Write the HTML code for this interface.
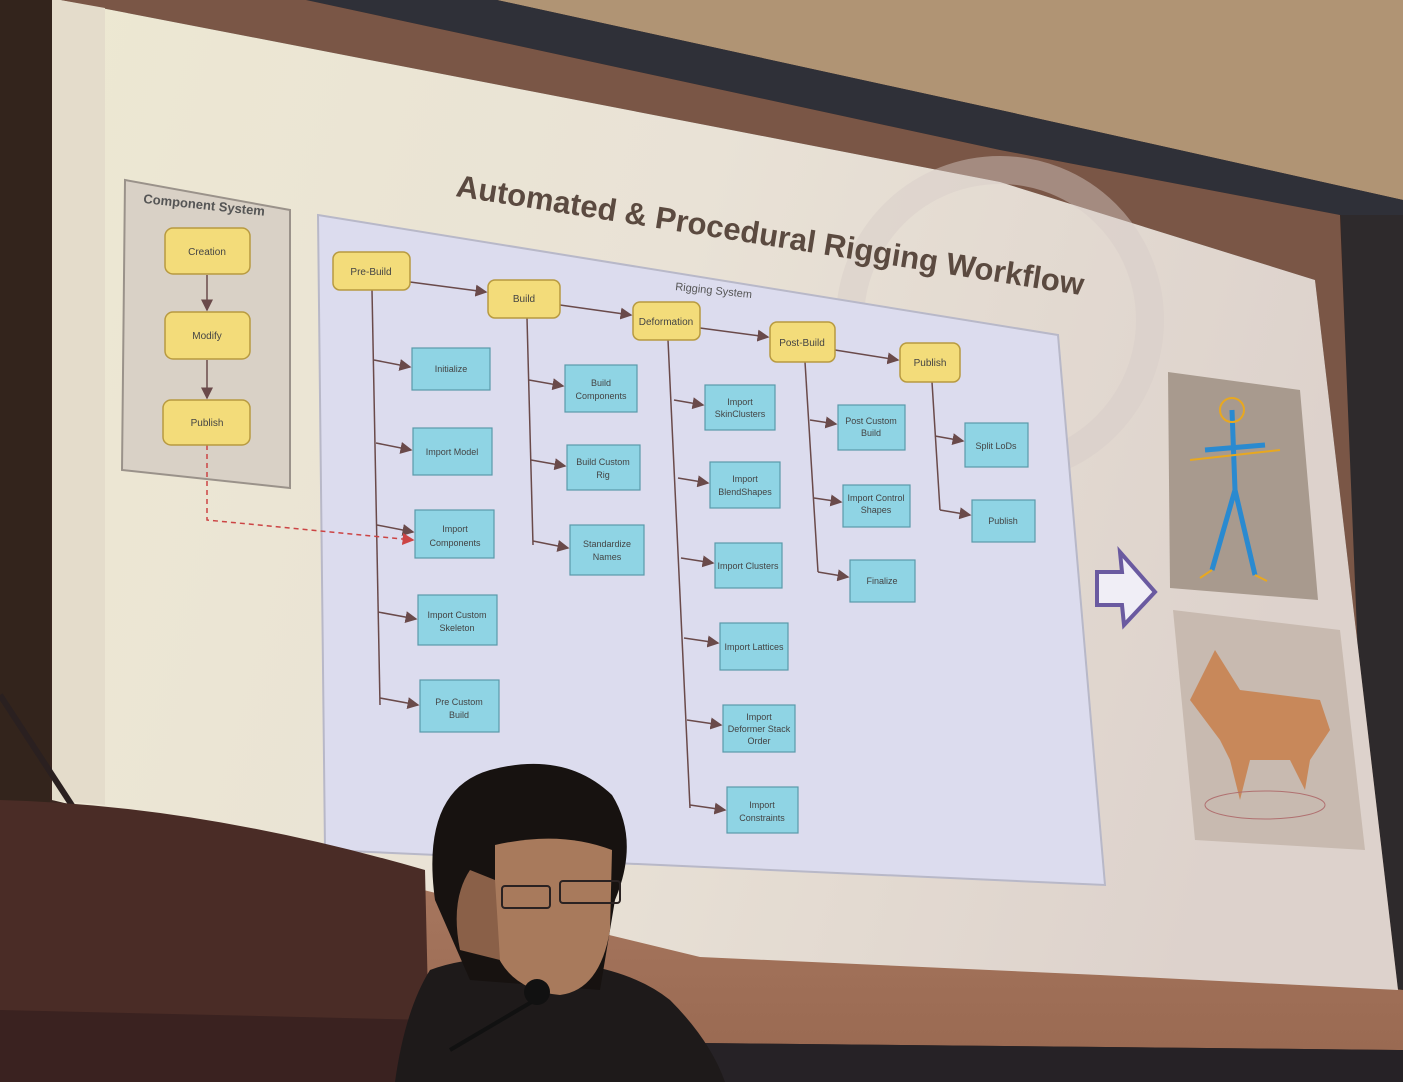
<!DOCTYPE html>
<html><head><meta charset="utf-8"><style>
html,body{margin:0;padding:0;background:#2a1c14;}
svg{display:block}
text{font-family:"Liberation Sans",sans-serif;}
</style></head><body>
<svg width="1403" height="1082" viewBox="0 0 1403 1082" xmlns="http://www.w3.org/2000/svg">
<defs>
<linearGradient id="scr" x1="0" y1="0" x2="1" y2="0.2">
<stop offset="0" stop-color="#ede8d2"/><stop offset="0.5" stop-color="#e9e2d6"/><stop offset="1" stop-color="#ddd2cc"/>
</linearGradient>
<linearGradient id="low" x1="0" y1="0" x2="0" y2="1">
<stop offset="0" stop-color="#a87860"/><stop offset="1" stop-color="#9a6a52"/>
</linearGradient>
<marker id="ar" markerWidth="8" markerHeight="8" refX="7" refY="4" orient="auto"><path d="M0,0 L8,4 L0,8z" fill="#6a4a4a"/></marker>
<marker id="ar2" markerWidth="8" markerHeight="8" refX="7" refY="4" orient="auto"><path d="M0,0 L8,4 L0,8z" fill="#cc4444"/></marker>
</defs>
<rect width="1403" height="1082" fill="#3a2620"/>
<!-- right wall / frame -->
<polygon points="1340,200 1403,200 1403,1000 1370,1000" fill="#2e2a2c"/>
<!-- ceiling -->
<polygon points="497,0 1403,0 1403,200 1000,110" fill="#b09474"/>
<!-- dark frame band -->
<polygon points="306,0 497,0 1000,110 1403,200 1403,215 1340,215 1000,150" fill="#2f3038"/>
<!-- brown border -->
<polygon points="60,0 306,0 1000,150 1340,215 1372,1000 1398,990 1315,280 1000,182" fill="#7a5646"/>
<!-- lower wall under screen -->
<polygon points="400,860 1403,990 1403,1050 400,1040" fill="url(#low)"/>
<polygon points="400,1040 1403,1050 1403,1082 400,1082" fill="#262226"/>
<!-- screen -->
<polygon points="52,0 60,0 1000,182 1315,280 1398,990 1100,975 700,957 52,800" fill="url(#scr)"/>
<polygon points="52,0 60,0 105,8 105,805 52,800" fill="#e4dccb"/>
<path d="M0,0 L52,0 L50,805 L0,800z" fill="#33241c"/>
<circle cx="1000" cy="320" r="150" fill="none" stroke="#d6ccc8" stroke-width="28" opacity="0.45"/>
<!-- title -->
<text x="455" y="196" font-size="31" font-weight="bold" fill="#5b4a40" transform="rotate(9 455 196)">Automated &amp; Procedural Rigging Workflow</text>
<!-- component system -->
<polygon points="125,180 290,210 290,488 122,470" fill="#d9d1c6" stroke="#9a928a" stroke-width="2"/>
<text x="143" y="203" font-size="13" font-weight="bold" fill="#555" transform="rotate(6 143 203)">Component System</text>
<!-- rigging panel -->
<polygon points="318,215 1058,335 1105,885 325,850" fill="#dcdcee" stroke="#b8b8c8" stroke-width="2"/>
<text x="675" y="290" font-size="11" fill="#555" transform="rotate(6 675 290)">Rigging System</text>
<g stroke="#6a4a4a" stroke-width="1.5" fill="none">
<line x1="207" y1="275" x2="207" y2="310" marker-end="url(#ar)"/>
<line x1="207" y1="360" x2="207" y2="398" marker-end="url(#ar)"/>
<polyline points="410,282 486,292" marker-end="url(#ar)"/>
<polyline points="560,305 631,315" marker-end="url(#ar)"/>
<polyline points="700,328 768,337" marker-end="url(#ar)"/>
<polyline points="835,350 898,360" marker-end="url(#ar)"/>
<polyline points="372,290 380,705"/>
<line x1="374" y1="360" x2="410" y2="367" marker-end="url(#ar)"/>
<line x1="376" y1="443" x2="411" y2="450" marker-end="url(#ar)"/>
<line x1="377" y1="525" x2="413" y2="532" marker-end="url(#ar)"/>
<line x1="378" y1="612" x2="416" y2="619" marker-end="url(#ar)"/>
<line x1="380" y1="698" x2="418" y2="705" marker-end="url(#ar)"/>
<polyline points="527,318 533,545"/>
<line x1="529" y1="380" x2="563" y2="386" marker-end="url(#ar)"/>
<line x1="531" y1="460" x2="565" y2="466" marker-end="url(#ar)"/>
<line x1="533" y1="541" x2="568" y2="548" marker-end="url(#ar)"/>
<polyline points="668,340 690,808"/>
<line x1="674" y1="400" x2="703" y2="405" marker-end="url(#ar)"/>
<line x1="678" y1="478" x2="708" y2="483" marker-end="url(#ar)"/>
<line x1="681" y1="558" x2="713" y2="563" marker-end="url(#ar)"/>
<line x1="684" y1="638" x2="718" y2="643" marker-end="url(#ar)"/>
<line x1="687" y1="720" x2="721" y2="725" marker-end="url(#ar)"/>
<line x1="690" y1="805" x2="725" y2="810" marker-end="url(#ar)"/>
<polyline points="805,362 818,572"/>
<line x1="810" y1="420" x2="836" y2="424" marker-end="url(#ar)"/>
<line x1="814" y1="498" x2="841" y2="502" marker-end="url(#ar)"/>
<line x1="818" y1="572" x2="848" y2="577" marker-end="url(#ar)"/>
<polyline points="932,382 940,510"/>
<line x1="935" y1="436" x2="963" y2="441" marker-end="url(#ar)"/>
<line x1="940" y1="510" x2="970" y2="515" marker-end="url(#ar)"/>
</g>
<polyline points="207,445 207,520 413,540" fill="none" stroke="#cc4444" stroke-width="1.5" stroke-dasharray="5,4" marker-end="url(#ar2)"/>
<g fill="#f3dc7a" stroke="#b89a40" stroke-width="1.5">
<rect x="165" y="228" width="85" height="46" rx="8"/><rect x="165" y="312" width="85" height="47" rx="8"/><rect x="163" y="400" width="87" height="45" rx="8"/>
<rect x="333" y="252" width="77" height="38" rx="7"/><rect x="488" y="280" width="72" height="38" rx="7"/><rect x="633" y="302" width="67" height="38" rx="7"/><rect x="770" y="322" width="65" height="40" rx="7"/><rect x="900" y="343" width="60" height="39" rx="7"/>
</g>
<g font-size="10" fill="#444" text-anchor="middle">
<text x="207" y="255">Creation</text><text x="207" y="339">Modify</text><text x="207" y="426">Publish</text>
<text x="371" y="275">Pre-Build</text><text x="524" y="302">Build</text><text x="666" y="325">Deformation</text><text x="802" y="346">Post-Build</text><text x="930" y="366">Publish</text>
</g>
<g fill="#8fd4e4" stroke="#5a9aaa" stroke-width="1.2">
<rect x="412" y="348" width="78" height="42"/><rect x="413" y="428" width="79" height="47"/><rect x="415" y="510" width="79" height="48"/><rect x="418" y="595" width="79" height="50"/><rect x="420" y="680" width="79" height="52"/>
<rect x="565" y="365" width="72" height="47"/><rect x="567" y="445" width="73" height="45"/><rect x="570" y="525" width="74" height="50"/>
<rect x="705" y="385" width="70" height="45"/><rect x="710" y="462" width="70" height="46"/><rect x="715" y="543" width="67" height="45"/><rect x="720" y="623" width="68" height="47"/><rect x="723" y="705" width="72" height="47"/><rect x="727" y="787" width="71" height="46"/>
<rect x="838" y="405" width="67" height="45"/><rect x="843" y="485" width="67" height="42"/><rect x="850" y="560" width="65" height="42"/>
<rect x="965" y="423" width="63" height="44"/><rect x="972" y="500" width="63" height="42"/>
</g>
<g font-size="9" fill="#444" text-anchor="middle">
<text x="451" y="372">Initialize</text><text x="452" y="455">Import Model</text><text x="455" y="532">Import</text><text x="455" y="546">Components</text>
<text x="457" y="618">Import Custom</text><text x="457" y="631">Skeleton</text><text x="459" y="705">Pre Custom</text><text x="459" y="718">Build</text>
<text x="601" y="386">Build</text><text x="601" y="399">Components</text><text x="603" y="465">Build Custom</text><text x="603" y="478">Rig</text><text x="607" y="547">Standardize</text><text x="607" y="560">Names</text>
<text x="740" y="405">Import</text><text x="740" y="417">SkinClusters</text><text x="745" y="482">Import</text><text x="745" y="495">BlendShapes</text><text x="748" y="569">Import Clusters</text><text x="754" y="650">Import Lattices</text>
<text x="759" y="720">Import</text><text x="759" y="732">Deformer Stack</text><text x="759" y="744">Order</text><text x="762" y="808">Import</text><text x="762" y="821">Constraints</text>
<text x="871" y="424">Post Custom</text><text x="871" y="436">Build</text><text x="876" y="501">Import Control</text><text x="876" y="513">Shapes</text><text x="882" y="584">Finalize</text>
<text x="996" y="449">Split LoDs</text><text x="1003" y="524">Publish</text>
</g>
<path d="M1097,572 L1122,572 L1120,552 L1155,592 L1124,625 L1122,605 L1097,605z" fill="#f0eef6" stroke="#6a5aa0" stroke-width="4"/>
<polygon points="1168,372 1300,390 1318,600 1170,588" fill="#a89a8e"/>
<g stroke="#2a8ad0" stroke-width="5" fill="none"><path d="M1232,410 L1235,490 M1205,450 L1265,445 M1235,490 L1212,570 M1235,490 L1255,575"/></g>
<g stroke="#e8a820" stroke-width="2" fill="none"><circle cx="1232" cy="410" r="12"/><path d="M1190,460 L1280,450 M1212,570 l-12,8 M1255,575 l12,6"/></g>
<polygon points="1173,610 1340,630 1365,850 1195,840" fill="#c8bab0"/>
<path d="M1190,700 L1215,650 L1240,690 L1320,700 L1330,730 L1310,760 L1305,790 L1290,760 L1250,760 L1240,800 L1230,760 L1220,740 Z" fill="#c8885a"/>
<ellipse cx="1265" cy="805" rx="60" ry="14" fill="none" stroke="#b07070"/>
<!-- podium -->
<line x1="0" y1="695" x2="75" y2="810" stroke="#2a2020" stroke-width="6"/>
<path d="M0,800 Q200,805 425,870 L430,1082 L0,1082z" fill="#4a2c26"/>
<path d="M0,1010 L430,1020 L430,1082 L0,1082z" fill="#3a2220"/>
<!-- person -->
<path d="M430,970 Q470,955 520,960 Q620,960 670,1000 Q710,1040 725,1082 L395,1082 Q405,1010 430,970z" fill="#1e1a1a"/>
<path d="M435,900 Q420,790 490,770 Q565,750 612,795 Q640,840 615,900 L600,990 L470,980 Z" fill="#171210"/>
<path d="M495,845 Q560,830 612,850 L610,930 Q600,990 560,995 Q510,990 495,950 Z" fill="#a87a5c"/>
<path d="M460,950 Q450,900 470,870 L495,880 L500,960 Z" fill="#8a6048"/>
<rect x="502" y="886" width="48" height="22" rx="3" fill="none" stroke="#2a2222" stroke-width="2"/>
<rect x="560" y="881" width="60" height="22" rx="3" fill="none" stroke="#2a2222" stroke-width="2"/>
<line x1="450" y1="1050" x2="535" y2="1000" stroke="#111" stroke-width="4"/>
<circle cx="537" cy="992" r="13" fill="#111"/>
</svg>
</body></html>
